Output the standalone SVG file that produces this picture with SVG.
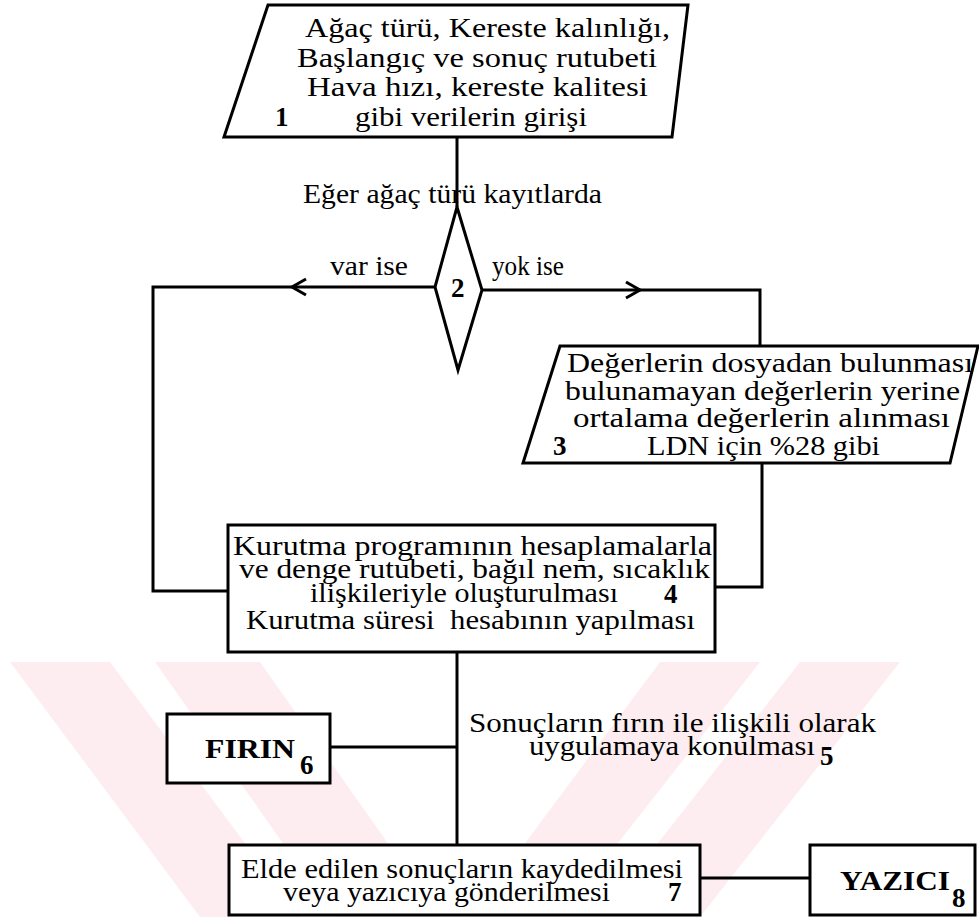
<svg xmlns="http://www.w3.org/2000/svg" width="979" height="917" viewBox="0 0 979 917">
<style>
.s{fill:#fff;stroke:#000;stroke-width:3;stroke-linejoin:miter}
.c{fill:none;stroke:#000;stroke-width:3}
.t{font-family:"Liberation Serif","Times New Roman",serif;font-size:27px;fill:#000;white-space:pre}
.b{font-weight:bold}
.wm{fill:#fdedf0}
</style>
<rect width="979" height="917" fill="#fff"/>
<g id="watermark">
<polygon class="wm" points="10,662 110,662 300,917 200,917"/>
<polygon class="wm" points="155,662 260,662 440,917 335,917"/>
<polygon class="wm" points="470,917 560,917 760,662 660,662"/>
<polygon class="wm" points="800,662 900,662 700,917 600,917"/>
</g>
<g id="connectors">
<path class="c" d="M457,137 V207"/>
<path class="c" d="M435,287 H153 V591 H228"/>
<path class="c" d="M306,279 L292,287 L306,295"/>
<path class="c" d="M482,290 H760 V346"/>
<path class="c" d="M626,282 L640,290 L626,298"/>
<path class="c" d="M762,463 V587 H715"/>
<path class="c" d="M457,652 V845"/>
<path class="c" d="M330,747 H457"/>
<path class="c" d="M700,878 H810"/>
</g>
<g id="n1">
<path class="s" d="M268,5 L688,5 L672,137 L224,137 Z"/>
<text class="t" x="305" y="37" textLength="365" lengthAdjust="spacingAndGlyphs">Ağaç türü, Kereste kalınlığı,</text>
<text class="t" x="297" y="67" textLength="360" lengthAdjust="spacingAndGlyphs">Başlangıç ve sonuç rutubeti</text>
<text class="t" x="307" y="96" textLength="341" lengthAdjust="spacingAndGlyphs">Hava hızı, kereste kalitesi</text>
<text class="t b" x="275" y="126">1</text>
<text class="t" x="355" y="126" textLength="232" lengthAdjust="spacingAndGlyphs">gibi verilerin girişi</text>
</g>
<g id="n2">
<text class="t" x="303" y="203" textLength="299" lengthAdjust="spacingAndGlyphs">Eğer ağaç türü kayıtlarda</text>
<path class="s" d="M457,207 L482,290 L458,370 L435,287 Z"/>
<text class="t b" x="451" y="297">2</text>
<text class="t" x="330" y="275" textLength="78" lengthAdjust="spacingAndGlyphs">var ise</text>
<text class="t" x="492" y="275" textLength="72" lengthAdjust="spacingAndGlyphs">yok ise</text>
</g>
<g id="n3">
<path class="s" d="M560,346 L978,346 L950,463 L523,463 Z"/>
<text class="t" x="567" y="372" textLength="406" lengthAdjust="spacingAndGlyphs">Değerlerin dosyadan bulunması</text>
<text class="t" x="565" y="400" textLength="395" lengthAdjust="spacingAndGlyphs">bulunamayan değerlerin yerine</text>
<text class="t" x="573" y="427" textLength="377" lengthAdjust="spacingAndGlyphs">ortalama değerlerin alınması</text>
<text class="t b" x="553" y="455">3</text>
<text class="t" x="647" y="455" textLength="233" lengthAdjust="spacingAndGlyphs">LDN için %28 gibi</text>
</g>
<g id="n4">
<rect class="s" x="228" y="525" width="487" height="127"/>
<text class="t" x="233" y="555" textLength="479" lengthAdjust="spacingAndGlyphs">Kurutma programının hesaplamalarla</text>
<text class="t" x="239" y="578" textLength="471" lengthAdjust="spacingAndGlyphs">ve denge rutubeti, bağıl nem, sıcaklık</text>
<text class="t" x="310" y="602" textLength="308" lengthAdjust="spacingAndGlyphs">ilişkileriyle oluşturulması</text>
<text class="t b" x="664" y="603">4</text>
<text class="t" x="246" y="629" textLength="449" lengthAdjust="spacingAndGlyphs">Kurutma süresi  hesabının yapılması</text>
</g>
<g id="n5">
<text class="t" x="469" y="732" textLength="407" lengthAdjust="spacingAndGlyphs">Sonuçların fırın ile ilişkili olarak</text>
<text class="t" x="529" y="755" textLength="286" lengthAdjust="spacingAndGlyphs">uygulamaya konulması</text>
<text class="t b" x="820" y="765">5</text>
</g>
<g id="n6">
<rect class="s" x="167" y="714" width="163" height="69"/>
<text class="t b" x="205" y="758" textLength="90" lengthAdjust="spacingAndGlyphs">FIRIN</text>
<text class="t b" x="300" y="774">6</text>
</g>
<g id="n7">
<rect class="s" x="229" y="845" width="471" height="70"/>
<text class="t" x="241" y="878" textLength="442" lengthAdjust="spacingAndGlyphs">Elde edilen sonuçların kaydedilmesi</text>
<text class="t" x="283" y="901" textLength="327" lengthAdjust="spacingAndGlyphs">veya yazıcıya gönderilmesi</text>
<text class="t b" x="668" y="901">7</text>
</g>
<g id="n8">
<rect class="s" x="810" y="845" width="165" height="70"/>
<text class="t b" x="840" y="890" textLength="110" lengthAdjust="spacingAndGlyphs">YAZICI</text>
<text class="t b" x="952" y="907">8</text>
</g>
</svg>
